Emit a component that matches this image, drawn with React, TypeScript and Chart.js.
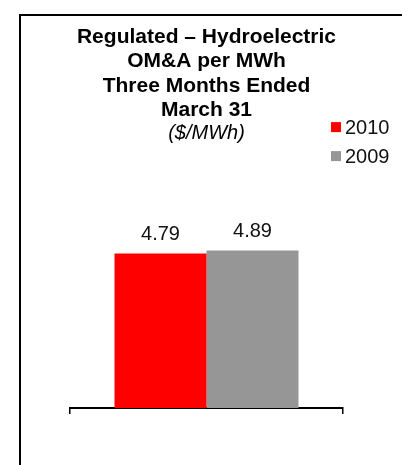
import React, { useEffect, useRef } from 'react';
import { Chart, registerables } from 'chart.js';

Chart.register(...registerables);

const categories = [''];
const seriesLabels = ['2010', '2009'];
const values2010 = [4.79];
const values2009 = [4.89];
const seriesColors = ['#FF0000', '#969696'];
const titleLines = ['Regulated \u2013 Hydroelectric', 'OM&A per MWh', 'Three Months Ended', 'March 31'];
const subtitleText = '($/MWh)';
const yMin = 0;
const yMax = 6;

const FONT = '"Liberation Sans", Arial, Helvetica, sans-serif';

const valueLabelPlugin = {
  id: 'valueLabels',
  afterDatasetsDraw(chart: any) {
    const ctx = chart.ctx;
    ctx.save();
    ctx.font = `20px ${FONT}`;
    ctx.fillStyle = '#111';
    ctx.textAlign = 'center';
    ctx.textBaseline = 'middle';
    chart.data.datasets.forEach((ds: any, i: number) => {
      const meta = chart.getDatasetMeta(i);
      meta.data.forEach((el: any, j: number) => {
        const v = ds.data[j];
        ctx.fillText(Number(v).toFixed(2), el.x, el.y - 19);
      });
    });
    ctx.restore();
  },
};

const sideLegendPlugin = {
  id: 'sideLegend',
  afterDraw(chart: any) {
    const ctx = chart.ctx;
    const area = chart.chartArea;
    ctx.save();
    ctx.font = `20px ${FONT}`;
    ctx.textAlign = 'left';
    ctx.textBaseline = 'middle';
    chart.data.datasets.forEach((ds: any, i: number) => {
      const cy = area.top - 87.5 + i * 29;
      const sx = area.right - 12;
      ctx.fillStyle = ds.backgroundColor;
      ctx.fillRect(sx, cy - 5, 10, 10);
      ctx.fillStyle = '#111';
      ctx.fillText(ds.label, sx + 14, cy + 1);
    });
    ctx.restore();
  },
};

export default function App() {
  const canvasRef = useRef<HTMLCanvasElement | null>(null);

  useEffect(() => {
    if (!canvasRef.current) return;
    const chart = new Chart(canvasRef.current, {
      type: 'bar',
      data: {
        labels: categories,
        datasets: [
          { label: seriesLabels[0], data: values2010, backgroundColor: seriesColors[0], borderWidth: 0 },
          { label: seriesLabels[1], data: values2009, backgroundColor: seriesColors[1], borderWidth: 0 },
        ],
      },
      options: {
        responsive: false,
        animation: false,
        devicePixelRatio: 1,
        layout: { padding: { top: 0, left: 70, right: 59, bottom: 51 } },
        datasets: {
          bar: { categoryPercentage: 0.674, barPercentage: 1 },
        },
        plugins: {
          legend: { display: false },
          tooltip: { enabled: false },
          title: {
            display: true,
            text: titleLines,
            color: '#000',
            font: { family: FONT, size: 21, weight: 'bold', lineHeight: 1.162 },
            padding: { top: 25, bottom: 0 },
          },
          subtitle: {
            display: true,
            text: subtitleText,
            color: '#000',
            font: { family: FONT, size: 20, style: 'italic', lineHeight: 1 },
            padding: { top: 1, bottom: 71 },
          },
        },
        scales: {
          x: {
            display: true,
            offset: true,
            grid: {
              display: true,
              offset: true,
              drawOnChartArea: false,
              drawTicks: true,
              tickLength: 6,
              color: '#000',
              lineWidth: 1.5,
            },
            border: { display: true, color: '#000', width: 2 },
            ticks: { display: false },
          },
          y: {
            display: false,
            min: yMin,
            max: yMax,
          },
        },
      },
      plugins: [valueLabelPlugin, sideLegendPlugin],
    } as any);
    return () => chart.destroy();
  }, []);

  return (
    <div style={{ position: 'fixed', left: 0, top: 0, width: 402, height: 465, overflow: 'hidden', background: '#fff' }}>
      <div
        style={{
          position: 'absolute',
          left: 19,
          top: 14,
          width: 500,
          height: 500,
          borderTop: '2px solid #000',
          borderLeft: '2px solid #000',
        }}
      />
      <canvas
        ref={canvasRef}
        width={402}
        height={465}
        style={{ position: 'absolute', left: 0, top: 0, width: 402, height: 465, display: 'block' }}
      />
    </div>
  );
}
